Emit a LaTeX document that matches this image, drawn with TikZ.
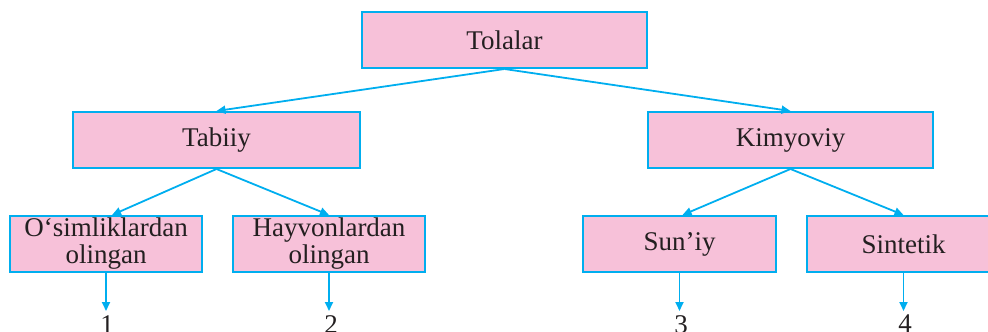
\documentclass[tikz,border=0pt]{standalone}
\usepackage{fontspec}
\setmainfont{Liberation Serif}
\usepackage{xcolor}
\usetikzlibrary{arrows.meta}
\definecolor{tolablue}{HTML}{00AEEF}
\definecolor{tolapink}{HTML}{F7C1D9}
\definecolor{tolatext}{HTML}{231F20}

\begin{document}
\begin{tikzpicture}[x=1pt,y=-1pt,>={Triangle[length=9pt,width=8pt]},
  box/.style={rectangle,draw=tolablue,fill=tolapink,line width=2pt,
    minimum height=56pt,inner sep=0pt,align=center,text=tolatext,
    font=\fontsize{27}{27}\selectfont},
  link/.style={->,draw=tolablue,line width=1.8pt},
  num/.style={inner sep=0pt,anchor=north,text=tolatext,font=\fontsize{27}{27}\selectfont}]
  \useasboundingbox (0,0) rectangle (988,332);
  \node[box,minimum width=285pt] (tola) at (504.5,40) {Tolalar};
  \node[box,minimum width=287pt] (tabiiy) at (216.5,140) {Tabiiy};
  \node[box,minimum width=285pt] (kimyo) at (790.5,140) {Kimyoviy};
  \node[box,minimum width=192pt] (osimlik) at (106,244) {O‘simliklardan\\olingan};
  \node[box,minimum width=192pt] (hayvon) at (329,244) {Hayvonlardan\\olingan};
  \node[box,minimum width=193pt] (suniy) at (679.5,244) {Sun’iy};
  \node[box,minimum width=193pt] (sintetik) at (903.5,244) {Sintetik};
  \node[num] (n1) at (107,315) {1};
  \node[num] (n2) at (331,315) {2};
  \node[num] (n3) at (681,315) {3};
  \node[num] (n4) at (905,315) {4};
  \draw[link] (tola.south) -- (tabiiy.north);
  \draw[link] (tola.south) -- (kimyo.north);
  \draw[link] (tabiiy.south) -- ([xshift=6pt]osimlik.north);
  \draw[link] (tabiiy.south) -- (hayvon.north);
  \draw[link] (kimyo.south) -- ([xshift=3pt]suniy.north);
  \draw[link] (kimyo.south) -- (sintetik.north);
  \draw[link,shorten >=4pt] (osimlik.south) -- (osimlik.south|-n1.north);
  \draw[link,shorten >=4pt] (hayvon.south) -- (hayvon.south|-n2.north);
  \draw[link,shorten >=4pt] (suniy.south) -- (suniy.south|-n3.north);
  \draw[link,shorten >=4pt] (sintetik.south) -- (sintetik.south|-n4.north);
\end{tikzpicture}
\end{document}
